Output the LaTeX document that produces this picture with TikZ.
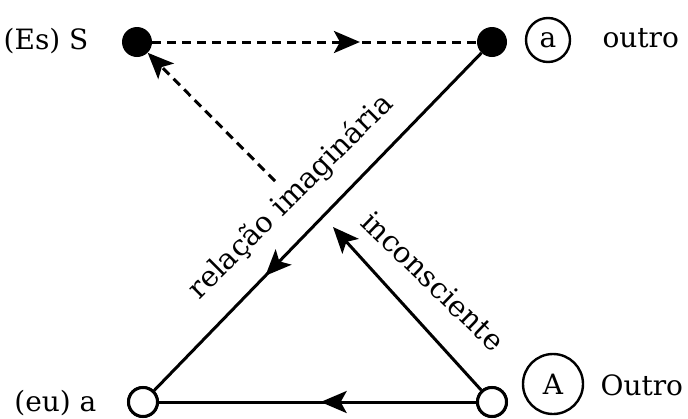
\documentclass[tikz,border=0pt]{standalone}
\usepackage{fontspec}
\setmainfont{DejaVu Serif}
\usetikzlibrary{arrows.meta,decorations.markings,calc}
\begin{document}
\begin{tikzpicture}[x=1pt,y=-1pt,
  every node/.style={font=\fontsize{28}{32}\selectfont},
  rottext/.style={font=\fontsize{29}{33}\selectfont},
  fulldot/.style={circle,fill=black,minimum size=30pt,inner sep=0pt},
  opendot/.style={circle,draw=black,fill=white,line width=3pt,minimum size=29pt,inner sep=0pt},
  ring/.style={circle,draw=black,line width=2.4pt,inner sep=0pt},
  conn/.style={line width=3pt},
  dconn/.style={conn,dash pattern=on 9pt off 6pt},
  tip/.style={-{Stealth[length=26pt,width=22pt,inset=6pt]}},
  midarrow/.style={postaction={decorate},decoration={markings,
     mark=at position #1 with {\arrow{Stealth[length=26pt,width=22pt,inset=6pt]}}}}
]
\useasboundingbox (0,0) rectangle (688,418);
% points
\node[fulldot] (S) at (137,42) {};
\node[fulldot] (a) at (492,42) {};
\node[opendot] (m) at (143,402) {};
\node[opendot] (A) at (492,402) {};
\coordinate (u1) at (333,227);
\coordinate (u2) at (275,181);
% connectors
\draw[dconn,midarrow=0.64] (S) -- (a);
\draw[conn,midarrow=0.66] (a) -- (m);
\draw[conn,midarrow=0.49] (A) -- (m);
\draw[conn,tip] (A) -- (u1);
\draw[dconn,tip] (u2) -- (S);
% redraw open dots above lines
\node[opendot] at (m) {};
\node[opendot] at (A) {};
% labels
\node[anchor=base east] (lS) at (92,49) {(Es) S};
\node[ring,minimum size=44pt] (ra) at (548,40) {a};
\node[anchor=base west] (lo) at (599,47) {outro};
\node[ring,minimum size=60pt] (rA) at (553,384) {A};
\node[anchor=base west] (lO) at (597,395) {Outro};
\node[anchor=base east] (lm) at (100,411) {(eu) a};
\node[rottext,rotate=45] (ri) at (291,197) {relação imaginária};
\node[rottext,rotate=-44] (inc) at (433,281) {inconsciente};
\end{tikzpicture}
\end{document}
